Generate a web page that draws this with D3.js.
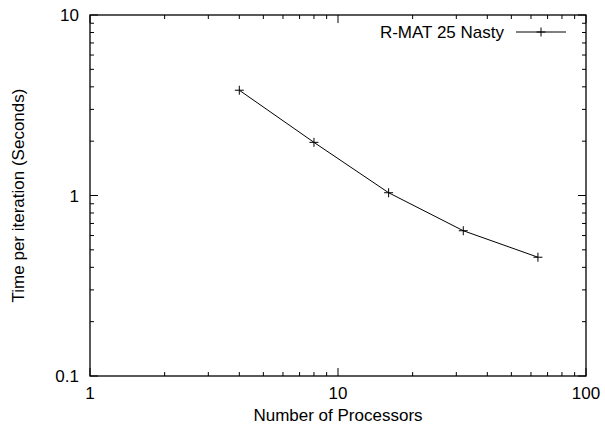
<!DOCTYPE html>
<html><head><meta charset="utf-8">
<script src="https://cdn.jsdelivr.net/npm/d3@7"></script>
<style>body{margin:0;background:#fff}svg{display:block}text{font-family:"Liberation Sans",Arial,Helvetica,sans-serif;fill:#000}</style>
</head><body>
<script>
const processors = [4, 8, 16, 32, 64];
const timePerIteration = [3.83, 1.97, 1.036, 0.638, 0.455];
const seriesName = "R-MAT 25 Nasty";
const xTickValues = [1, 10, 100];
const yTickValues = [0.1, 1, 10];
const xLabel = "Number of Processors";
const yLabel = "Time per iteration (Seconds)";

const W = 605, H = 427;
const m = {left: 90, right: 19, top: 15, bottom: 51};
const svg = d3.select("body").append("svg").attr("width", W).attr("height", H);
const x = d3.scaleLog().domain([1, 100]).range([m.left, W - m.right]);
const y = d3.scaleLog().domain([0.1, 10]).range([H - m.bottom, m.top]);
const fs = 17;

// minor ticks
const minorX = [], minorY = [];
[1, 10].forEach(d => { for (let k = 2; k <= 9; k++) minorX.push(d * k); });
[0.1, 1].forEach(d => { for (let k = 2; k <= 9; k++) minorY.push(d * k); });
const g = svg.append("g").attr("stroke", "#000").attr("stroke-width", 1);
const x0 = x.range()[0], x1 = x.range()[1], y0 = y.range()[0], y1 = y.range()[1];
function tickX(v, len) {
  g.append("line").attr("x1", x(v)).attr("x2", x(v)).attr("y1", y0).attr("y2", y0 - len);
  g.append("line").attr("x1", x(v)).attr("x2", x(v)).attr("y1", y1).attr("y2", y1 + len);
}
function tickY(v, len) {
  g.append("line").attr("y1", y(v)).attr("y2", y(v)).attr("x1", x0).attr("x2", x0 + len);
  g.append("line").attr("y1", y(v)).attr("y2", y(v)).attr("x1", x1).attr("x2", x1 - len);
}
minorX.forEach(v => tickX(v, 4));
minorY.forEach(v => tickY(v, 4));
xTickValues.forEach(v => tickX(v, 8));
yTickValues.forEach(v => tickY(v, 8));

// frame
svg.append("rect").attr("x", x0).attr("y", y1).attr("width", x1 - x0).attr("height", y0 - y1)
  .attr("fill", "none").attr("stroke", "#000").attr("stroke-width", 1.3);

// tick labels
svg.append("g").selectAll("text").data(xTickValues).join("text")
  .attr("x", d => x(d)).attr("y", y0 + 23).attr("text-anchor", "middle").attr("font-size", fs)
  .text(d => d3.format("~g")(d));
svg.append("g").selectAll("text").data(yTickValues).join("text")
  .attr("x", x0 - 11).attr("y", d => y(d) + 6).attr("text-anchor", "end").attr("font-size", fs)
  .text(d => d3.format("~g")(d));

// axis labels
svg.append("text").attr("x", (x0 + x1) / 2).attr("y", 421).attr("text-anchor", "middle")
  .attr("font-size", fs).text(xLabel);
svg.append("text").attr("transform", `translate(24,${(y0 + y1) / 2}) rotate(-90)`)
  .attr("text-anchor", "middle").attr("font-size", fs).text(yLabel);

// data line
const data = processors.map((p, i) => ({p, t: timePerIteration[i]}));
svg.append("path").datum(data)
  .attr("d", d3.line().x(d => x(d.p)).y(d => y(d.t)))
  .attr("fill", "none").attr("stroke", "#000").attr("stroke-width", 1);
const mk = svg.append("g").attr("stroke", "#000").attr("stroke-width", 1);
function plus(cx, cy) {
  mk.append("line").attr("x1", cx - 4.5).attr("x2", cx + 4.5).attr("y1", cy).attr("y2", cy);
  mk.append("line").attr("x1", cx).attr("x2", cx).attr("y1", cy - 4.5).attr("y2", cy + 4.5);
}
data.forEach(d => plus(x(d.p), y(d.t)));

// legend
const ly = 32;
svg.append("text").attr("x", 504).attr("y", ly + 6).attr("text-anchor", "end").attr("font-size", fs).text(seriesName);
svg.append("line").attr("x1", 516).attr("x2", 566).attr("y1", ly).attr("y2", ly).attr("stroke", "#000");
plus(541, ly);
</script>
</body></html>
